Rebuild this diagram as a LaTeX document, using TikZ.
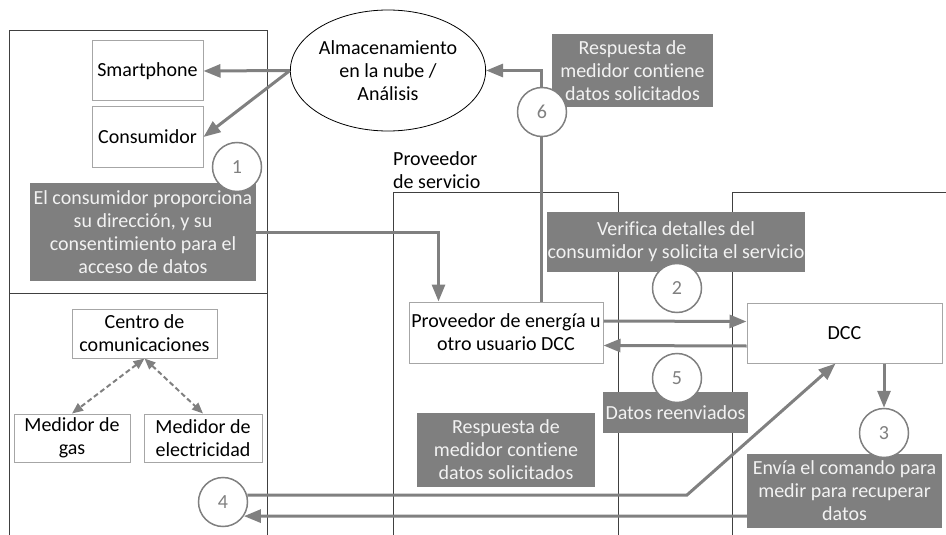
\documentclass[tikz,border=0pt]{standalone}
\usepackage{fontspec}
\setmainfont{Carlito}[Ligatures={NoCommon}]
\usetikzlibrary{calc,shapes.geometric,arrows.meta}
\definecolor{lanegray}{HTML}{404040}
\definecolor{boxgray}{HTML}{A6A6A6}
\definecolor{flowgray}{HTML}{808080}
\definecolor{notegray}{HTML}{7F7F7F}
\definecolor{notetext}{HTML}{F2F2F2}

\begin{document}
\begin{tikzpicture}
[x=1pt,y=-1pt,
 font=\fontsize{20}{23}\selectfont,
 lane/.style={draw=lanegray,line width=1pt},
 box/.style={rectangle,draw=boxgray,line width=1pt,fill=white,align=center,inner sep=0pt},
 note/.style={rectangle,fill=notegray,text=notetext,align=center,inner sep=0pt},
 num/.style={circle,draw=flowgray,line width=1.5pt,fill=white,text=flowgray,minimum size=49pt,inner sep=0pt},
 flow/.style={draw=flowgray,line width=3pt,-{Triangle[length=17pt,width=13pt]}},
 link/.style={draw=flowgray,line width=2pt,dash pattern=on 5pt off 3pt,{Triangle[length=11pt,width=9pt]}-{Triangle[length=11pt,width=9pt]}}]

\useasboundingbox (0,0) rectangle (946,535);

\draw[lane] (9,535) -- (9,31) -- (267,31) -- (267,535);
\draw[lane] (9,293) -- (267,293);
\draw[lane] (393,535) -- (393,192) -- (618,192) -- (618,535);
\draw[lane] (732,535) -- (732,192) -- (946,192);

\node (smart) at (147.5,71) [box,minimum width=111pt,minimum height=60pt] {Smartphone};
\node (cons) at (147.5,137) [box,minimum width=111pt,minimum height=60pt] {Consumidor};
\node (cloud) at (388,70.5) [ellipse,draw=black,line width=0.8pt,fill=white,minimum width=178pt,minimum height=121pt,align=center,inner sep=0pt] {Almacenamiento\\en la nube /\\Análisis};
\node (t1) at (143,232) [note,minimum width=226pt,minimum height=98pt] {El consumidor proporciona\\su dirección, y su\\consentimiento para el\\acceso de datos};

\node (centro) at (144.5,333.5) [box,minimum width=145pt,minimum height=49pt] {Centro de\\comunicaciones};
\node (gas) at (72,438) [box,minimum width=116pt,minimum height=48pt] {Medidor de\\gas};
\node (elec) at (203,438) [box,minimum width=118pt,minimum height=48pt] {Medidor de\\electricidad};

\node (svc) at (392,190) [anchor=south west,align=left,inner sep=1pt] {Proveedor\\de servicio};
\node (prov) at (506,332.5) [box,minimum width=194pt,minimum height=61pt] {Proveedor de energía u\\otro usuario DCC};
\node (dcc) at (844.5,333) [box,minimum width=195pt,minimum height=60pt] {DCC};

\node (t2) at (676,242) [note,minimum width=258pt,minimum height=60pt] {Verifica detalles del\\consumidor y solicita el servicio};
\node (t5) at (675.5,412.5) [note,minimum width=145pt,minimum height=41pt] {Datos reenviados};
\node (t3) at (844.5,491) [note,minimum width=195pt,minimum height=74pt] {Envía el comando para\\medir para recuperar\\datos};
\node (t4) at (506,450) [note,minimum width=178pt,minimum height=74pt] {Respuesta de\\medidor contiene\\datos solicitados};
\node (t6) at (632.5,70.5) [note,minimum width=161pt,minimum height=73pt] {Respuesta de\\medidor contiene\\datos solicitados};

\node (n1) at (237,167) [num] {1};
\node (n2) at (677,288) [num] {2};
\node (n3) at (884,433) [num] {3};
\node (n4) at (223,502) [num] {4};
\node (n5) at (677,378) [num] {5};

\draw[flow] (cloud.west) -- (smart.east);
\draw[flow] (cloud.west) -- (cons.east);
\draw[flow] (t1.east) -| ($(prov.north west)+(30,0)$);
\draw[flow] ($(prov.north west)+(133,0)$) |- (cloud.east);
\draw[flow] ($(prov.east)+(0,-11.5)$) -- ($(dcc.west)+(0,-11.5)$);
\draw[flow] ($(dcc.west)+(0,13)$) -- ($(prov.east)+(0,13)$);
\draw[flow] ($(dcc.south)+(39.5,0)$) -- (n3.north);
\coordinate (k4) at (687,495);
\draw[flow] (n4.16) -- (k4) -- ($(dcc.south)+(-9,0)$);
\draw[flow] ($(t3.west)+(0,25)$) -- (n4.-34);
\draw[link] (centro.south) -- (gas.north);
\draw[link] (centro.south) -- (elec.north);

\node (n6) at (542,112) [num] {6};
\end{tikzpicture}
\end{document}
